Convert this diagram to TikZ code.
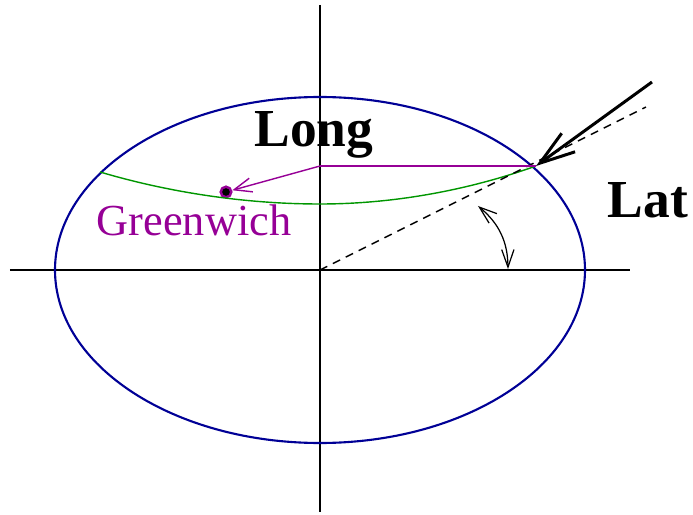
\documentclass[tikz,border=0pt]{standalone}
\usepackage{fontspec}
\setmainfont{Liberation Serif}
\usetikzlibrary{arrows.meta}

\definecolor{ellblue}{RGB}{0,0,150}
\definecolor{gwpurple}{RGB}{150,0,150}
\definecolor{latgreen}{RGB}{0,150,0}

\begin{document}
\begin{tikzpicture}[x=0.01cm, y=-0.01cm, >=stealth]
                \useasboundingbox (0,0) rectangle (693,515);
                \tikzset{
                    axis/.style={line width=0.35pt},
                    big/.style={font=\fontsize{15.2}{18}\selectfont\bfseries}
                }

                % axes and globe
                \coordinate (o) at (320,270);
                \draw[axis] (10,270) -- (630,270);
                \draw[axis] (320,5) -- (320,512);
                \draw[ellblue, line width=0.6pt] (o) ellipse [x radius=265, y radius=173];

                % points
                \coordinate (p) at (536,166);
                \coordinate (q) at (320,166);
                \coordinate (ray) at (646,107);
                \coordinate (sun) at (652,82);
                \node[circle, draw=gwpurple, fill=black, line width=0.7pt, inner sep=0pt, minimum size=3pt] (gw) at (226,192) {};

                \draw[latgreen, line width=0.4pt] (100,172) parabola bend (320,204) (p);
                \draw[dash pattern=on 2.3pt off 1.8pt, line width=0.4pt] (o) -- (ray);
                \draw[gwpurple, line width=0.4pt] (q) -- (p);
                \draw[gwpurple, line width=0.4pt, -{Straight Barb[length=5pt, width=4pt]}] (q) -- (gw);
                \draw[line width=0.85pt, -{Straight Barb[length=10pt, width=6.5pt]}] (sun) -- (p);

                % latitude angle
                \coordinate (a1) at (478,206);
                \coordinate (a2) at (508,269);
                \draw[line width=0.35pt, {Straight Barb[length=5pt, width=3.5pt]}-{Straight Barb[length=5pt, width=3.5pt]}] (a1) to[bend left=25] (a2);

                % labels
                \node[big] (long) at (314,135) {Long};
                \node[big] (lat) at (648,200) {Lat};
                \node[gwpurple, font=\fontsize{12.6}{15}\selectfont] (gwlabel) at (194,220) {Greenwich};
            \end{tikzpicture}
\end{document}
